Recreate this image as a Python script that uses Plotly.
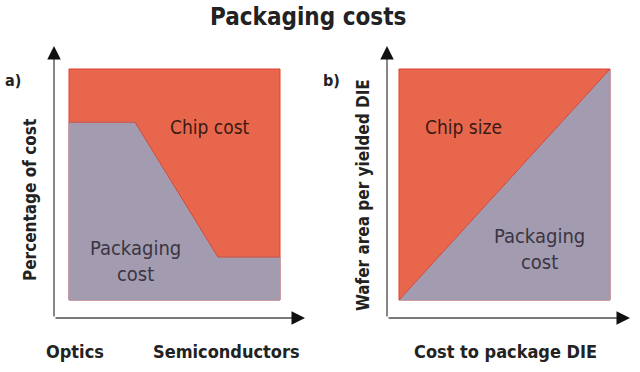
import plotly.graph_objects as go

# ---- data ----
# Panel a: boundary between packaging cost (below) and chip cost (above)
a_x = [0.0, 0.313, 0.706, 1.0]
a_boundary = [0.77, 0.77, 0.186, 0.186]
a_top = 1.0

# Panel b: diagonal boundary
b_x = [0.0, 1.0]
b_boundary = [0.0, 1.0]
b_top = 1.0

title_text = "Packaging costs"
a_ylabel = "Percentage of cost"
a_xlabels = ["Optics", "Semiconductors"]
b_ylabel = "Wafer area per yielded DIE"
b_xlabel = "Cost to package DIE"

RED = "#E8674C"
RED_EDGE = "#E0402C"
PURPLE = "#A39BB0"
FONT = "DejaVu Sans Condensed, Roboto, sans-serif"

W, H = 640, 372


def px(x):
    return x / W


def py(y):
    return 1 - y / H


fig = go.Figure()

# Panel a traces (xaxis x, yaxis y)
fig.add_trace(go.Scatter(
    x=[a_x[0], a_x[-1], a_x[-1], a_x[0], a_x[0]],
    y=[0, 0, a_top, a_top, 0],
    fill="toself", fillcolor=RED, mode="lines",
    line=dict(color=RED_EDGE, width=1), xaxis="x", yaxis="y", hoverinfo="skip"))
fig.add_trace(go.Scatter(
    x=[a_x[0]] + a_x + [a_x[-1], a_x[0]],
    y=[0] + a_boundary + [0, 0],
    fill="toself", fillcolor=PURPLE, mode="lines",
    line=dict(color=PURPLE, width=1), xaxis="x", yaxis="y", hoverinfo="skip"))
fig.add_trace(go.Scatter(
    x=a_x, y=a_boundary, mode="lines",
    line=dict(color=RED_EDGE, width=1), xaxis="x", yaxis="y", hoverinfo="skip"))

# Panel b traces
fig.add_trace(go.Scatter(
    x=[b_x[0], b_x[-1], b_x[-1], b_x[0], b_x[0]],
    y=[0, 0, b_top, b_top, 0],
    fill="toself", fillcolor=RED, mode="lines",
    line=dict(color=RED_EDGE, width=1), xaxis="x2", yaxis="y2", hoverinfo="skip"))
fig.add_trace(go.Scatter(
    x=[b_x[0], b_x[1], b_x[1], b_x[0]],
    y=[b_boundary[0], b_boundary[1], 0, 0],
    fill="toself", fillcolor=PURPLE, mode="lines",
    line=dict(color=PURPLE, width=1), xaxis="x2", yaxis="y2", hoverinfo="skip"))
fig.add_trace(go.Scatter(
    x=b_x, y=b_boundary, mode="lines",
    line=dict(color=RED_EDGE, width=1), xaxis="x2", yaxis="y2", hoverinfo="skip"))

# axis geometry (pixel based)
ax_a_left, ax_a_right = 54, 305
rect_a_left, rect_a_right = 69, 280
ax_b_left, ax_b_right = 387, 630
rect_b_left, rect_b_right = 399, 610
ax_top, ax_bottom = 46, 318
rect_top, rect_bottom = 69, 300


def xrange(axl, axr, rl, rr):
    w = rr - rl
    return [(axl - rl) / w, (axr - rl) / w]


yr = [(rect_bottom - ax_bottom) / (rect_bottom - rect_top), (rect_bottom - ax_top) / (rect_bottom - rect_top)]

common = dict(showgrid=False, zeroline=False, showticklabels=False, ticks="", fixedrange=True, showline=False)
fig.update_layout(
    xaxis=dict(domain=[px(ax_a_left), px(ax_a_right)], range=xrange(ax_a_left, ax_a_right, rect_a_left, rect_a_right), anchor="y", **common),
    yaxis=dict(domain=[py(ax_bottom), py(ax_top)], range=yr, anchor="x", **common),
    xaxis2=dict(domain=[px(ax_b_left), px(ax_b_right)], range=xrange(ax_b_left, ax_b_right, rect_b_left, rect_b_right), anchor="y2", **common),
    yaxis2=dict(domain=[py(ax_bottom), py(ax_top)], range=yr, anchor="x2", **common),
)

ann = []
# axis arrows: grey shaft + black head
AX_COLOR = "#7a7a7a"
HEAD_COLOR = "#111111"
for (l, r) in [(ax_a_left, ax_a_right), (ax_b_left, ax_b_right)]:
    ann.append(dict(x=px(r - 6), y=py(ax_bottom), ax=l - r + 6, ay=0, xref="paper", yref="paper",
                    axref="pixel", ayref="pixel", showarrow=True, arrowhead=0, arrowwidth=1.8,
                    arrowcolor=AX_COLOR, text=""))
    ann.append(dict(x=px(l), y=py(ax_top + 6), ax=0, ay=ax_bottom - ax_top - 6, xref="paper", yref="paper",
                    axref="pixel", ayref="pixel", showarrow=True, arrowhead=0, arrowwidth=1.8,
                    arrowcolor=AX_COLOR, text=""))
    ann.append(dict(x=px(r), y=py(ax_bottom), ax=-10, ay=0, xref="paper", yref="paper",
                    axref="pixel", ayref="pixel", showarrow=True, arrowhead=2, arrowsize=1.5, arrowwidth=1.8,
                    arrowcolor=HEAD_COLOR, text=""))
    ann.append(dict(x=px(l), y=py(ax_top), ax=0, ay=10, xref="paper", yref="paper",
                    axref="pixel", ayref="pixel", showarrow=True, arrowhead=2, arrowsize=1.5, arrowwidth=1.8,
                    arrowcolor=HEAD_COLOR, text=""))

TXT = "#222222"


def label(x, y, text, size, color=TXT, weight="normal", angle=0):
    return dict(x=px(x), y=py(y), text=text, showarrow=False, xref="paper", yref="paper",
                xanchor="center", yanchor="middle", textangle=angle,
                font=dict(family=FONT, size=size, color=color, weight=weight))


ann += [
    label(308, 17, title_text, 24, weight="bold"),
    label(13, 80, "a)", 16, weight="bold"),
    label(331, 80, "b)", 16, weight="bold"),
    label(30, 200, a_ylabel, 17, weight="bold", angle=-90),
    label(363, 195, b_ylabel, 17, weight="bold", angle=-90),
    label(75, 351, a_xlabels[0], 18, weight="bold"),
    label(226, 351, a_xlabels[1], 18, weight="bold"),
    label(505, 351, b_xlabel, 18, weight="bold"),
    label(210, 127, "Chip cost", 19, color="#3a1a12"),
    label(135, 261, "Packaging<br>cost", 20, color="#3a3542"),
    label(463, 127, "Chip size", 19, color="#3a1a12"),
    label(539, 249, "Packaging<br>cost", 20, color="#3a3542"),
]

fig.update_layout(
    width=W, height=H, margin=dict(l=0, r=0, t=0, b=0),
    paper_bgcolor="white", plot_bgcolor="rgba(0,0,0,0)",
    showlegend=False, annotations=ann,
)

fig.write_html("out.html", config={"displayModeBar": False},
               post_script="document.body.style.margin='0';")
